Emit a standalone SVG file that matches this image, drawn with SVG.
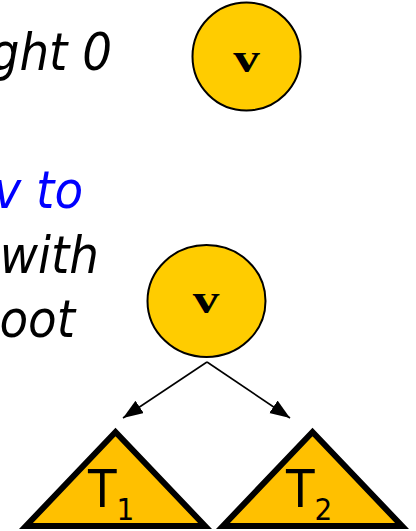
<svg xmlns="http://www.w3.org/2000/svg" width="416" height="531" viewBox="0 0 416 531">
<defs>
<style>
.txt{font-family:"DejaVu Sans Condensed","DejaVu Sans",sans-serif;font-stretch:condensed;font-style:italic;font-size:52px;fill:#000}
.blue{fill:#0000FF}
.node{fill:#FFCC00;stroke:#000;stroke-width:2}
.tri{fill:#FFC000;stroke:#000;stroke-width:6;stroke-linejoin:miter}
.lbl{font-family:"Liberation Serif","Times New Roman",serif;font-weight:bold;font-size:41px;fill:#000;text-anchor:middle}
.tl{font-family:"DejaVu Sans Condensed","DejaVu Sans",sans-serif;font-stretch:condensed;font-size:52px;fill:#000}
.sub{font-size:31px}
.edge{stroke:#000;stroke-width:1.6;fill:none;marker-end:url(#ah)}
</style>
<marker id="ah" markerUnits="userSpaceOnUse" markerWidth="21" markerHeight="16" refX="20" refY="7.5" orient="auto">
<path d="M0,0 L20,7.5 L0,15 z" fill="#000"/>
</marker>
</defs>
<g id="text">
<text class="txt" x="112" y="70" text-anchor="end">ght 0</text>
<text class="txt blue" x="83" y="208" text-anchor="end">v to</text>
<text class="txt" x="99" y="273" text-anchor="end">with</text>
<text class="txt" x="75" y="337" text-anchor="end">oot</text>
</g>
<g id="node-v-top">
<ellipse class="node" cx="246.5" cy="56.5" rx="54" ry="54"/>
<text class="lbl" transform="translate(246.5,72) scale(1.3,1)" x="0" y="0">v</text>
</g>
<g id="node-v">
<ellipse class="node" cx="206.5" cy="301" rx="59" ry="56"/>
<text class="lbl" transform="translate(206,313) scale(1.3,1)" x="0" y="0">v</text>
</g>
<g id="connectors">
<line class="edge" x1="207" y1="362" x2="123" y2="418"/>
<line class="edge" x1="207" y1="362" x2="290" y2="418"/>
</g>
<g id="node-T1">
<path class="tri" d="M115.5,432 L205,526 L26,526 Z"/>
<text class="tl" x="88" y="507">T<tspan class="sub" y="520">1</tspan></text>
</g>
<g id="node-T2">
<path class="tri" d="M312.5,432 L402,526 L223,526 Z"/>
<text class="tl" x="286" y="507">T<tspan class="sub" y="520">2</tspan></text>
</g>
</svg>
